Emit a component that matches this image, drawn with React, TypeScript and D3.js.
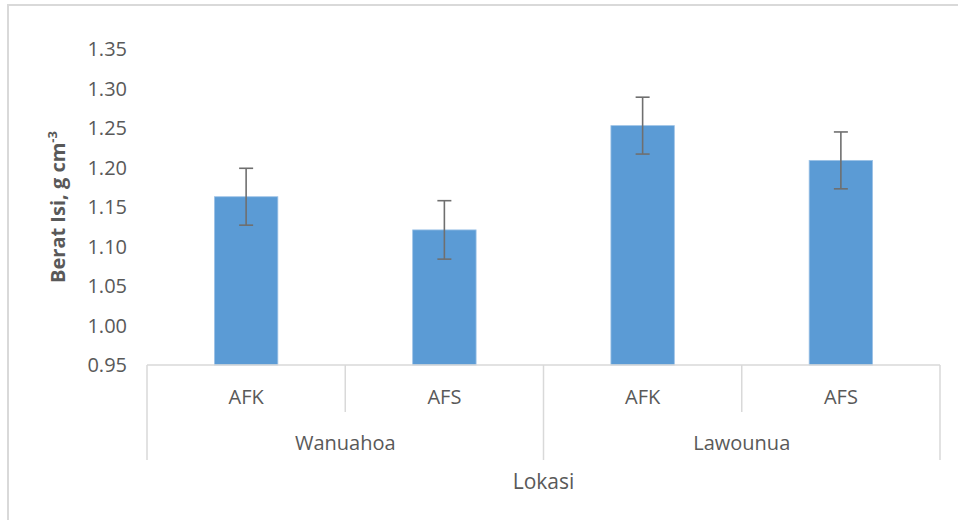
import * as d3 from 'd3';
import { useEffect, useRef } from 'react';

const groups = ['Wanuahoa', 'Lawounua'];
const treatments = ['AFK', 'AFS'];
const values = [1.163, 1.121, 1.253, 1.209];
const errors = [0.036, 0.037, 0.036, 0.036];
const yTicks = [0.95, 1.0, 1.05, 1.1, 1.15, 1.2, 1.25, 1.3, 1.35];
const xTitle = 'Lokasi';
const yTitle = 'Berat Isi, g cm';

const W = 958;
const H = 520;
const FONT = '"Open Sans", "Noto Sans", sans-serif';
const TEXT = '#595959';
const LINE = '#d9d9d9';

const App = () => {
  const svgRef = useRef<SVGSVGElement>(null);

  useEffect(() => {
    document.body.style.margin = '0';
    const svg = d3.select(svgRef.current);
    svg.selectAll('*').remove();

    // frame (only top and left edges are visible in the crop)
    svg.append('line').attr('x1', 8).attr('x2', W).attr('y1', 5).attr('y2', 5).attr('stroke', LINE).attr('stroke-width', 2);
    svg.append('line').attr('x1', 8).attr('x2', 8).attr('y1', 4).attr('y2', H).attr('stroke', LINE).attr('stroke-width', 2);

    // ── Scales ──────────────────────────────────────────────
    const cats = groups.flatMap(g => treatments.map(t => `${g}|${t}`));
    const x = d3.scaleBand().domain(cats).range([147, 940]).paddingInner(0).paddingOuter(0);
    const y = d3.scaleLinear().domain([0.95, 1.35]).range([365, 49]);
    const [y0] = y.range();

    // ── Y axis labels ───────────────────────────────────────
    svg.append('g')
      .selectAll('text')
      .data(yTicks)
      .join('text')
      .attr('x', 127)
      .attr('y', d => y(d))
      .attr('dy', '0.35em')
      .attr('text-anchor', 'end')
      .attr('font-family', FONT)
      .attr('font-size', 20)
      .attr('fill', TEXT)
      .text(d => d3.format('.2f')(d));

    const yt = svg.append('text')
      .attr('transform', `translate(65,${(y(0.95) + y(1.35)) / 2}) rotate(-90)`)
      .attr('text-anchor', 'middle')
      .attr('font-family', FONT)
      .attr('font-size', 20)
      .attr('font-weight', 'bold')
      .attr('fill', TEXT);
    yt.append('tspan').text(yTitle);
    yt.append('tspan').attr('font-size', 13).attr('dy', -8).text('-3');

    // ── Bars ────────────────────────────────────────────────
    const bw = x.bandwidth() * 0.32;
    svg.append('g')
      .selectAll('rect')
      .data(values)
      .join('rect')
      .attr('x', (d, i) => x(cats[i])! + (x.bandwidth() - bw) / 2)
      .attr('y', d => y(d))
      .attr('width', bw)
      .attr('height', d => y0 - y(d))
      .attr('fill', '#5b9bd5')
      .attr('stroke', '#9dc3e6')
      .attr('stroke-width', 0.8);

    // ── Error bars ──────────────────────────────────────────
    const eb = svg.append('g').attr('stroke', '#6f6f6f').attr('stroke-width', 1.6);
    values.forEach((v, i) => {
      const cx = x(cats[i])! + x.bandwidth() / 2;
      const top = y(v + errors[i]);
      const bot = y(v - errors[i]);
      eb.append('line').attr('x1', cx).attr('x2', cx).attr('y1', top).attr('y2', bot);
      eb.append('line').attr('x1', cx - 7).attr('x2', cx + 7).attr('y1', top).attr('y2', top);
      eb.append('line').attr('x1', cx - 7).attr('x2', cx + 7).attr('y1', bot).attr('y2', bot);
    });

    // ── Category axis ───────────────────────────────────────
    const ax = svg.append('g').attr('stroke', LINE).attr('stroke-width', 1.5);
    const [xl, xr] = x.range();
    ax.append('line').attr('x1', xl).attr('x2', xr).attr('y1', y0).attr('y2', y0);
    cats.forEach((c, i) => {
      const left = x(c)!;
      const outer = i % treatments.length === 0;
      ax.append('line').attr('x1', left).attr('x2', left).attr('y1', y0).attr('y2', outer ? 460 : 412);
    });
    ax.append('line').attr('x1', xr).attr('x2', xr).attr('y1', y0).attr('y2', 460);

    svg.append('g')
      .selectAll('text')
      .data(cats)
      .join('text')
      .attr('x', c => x(c)! + x.bandwidth() / 2)
      .attr('y', 404)
      .attr('text-anchor', 'middle')
      .attr('font-family', FONT)
      .attr('font-size', 20)
      .attr('fill', TEXT)
      .text(c => c.split('|')[1]);

    svg.append('g')
      .selectAll('text')
      .data(groups)
      .join('text')
      .attr('x', g => {
        const first = x(`${g}|${treatments[0]}`)!;
        return first + (x.bandwidth() * treatments.length) / 2;
      })
      .attr('y', 450)
      .attr('text-anchor', 'middle')
      .attr('font-family', FONT)
      .attr('font-size', 20)
      .attr('fill', TEXT)
      .text(g => g);

    svg.append('text')
      .attr('x', (xl + xr) / 2)
      .attr('y', 489)
      .attr('text-anchor', 'middle')
      .attr('font-family', FONT)
      .attr('font-size', 21)
      .attr('fill', TEXT)
      .text(xTitle);
  }, []);

  return <svg ref={svgRef} width={W} height={H} style={{ display: 'block', background: '#fff' }} />;
};

export default App;
